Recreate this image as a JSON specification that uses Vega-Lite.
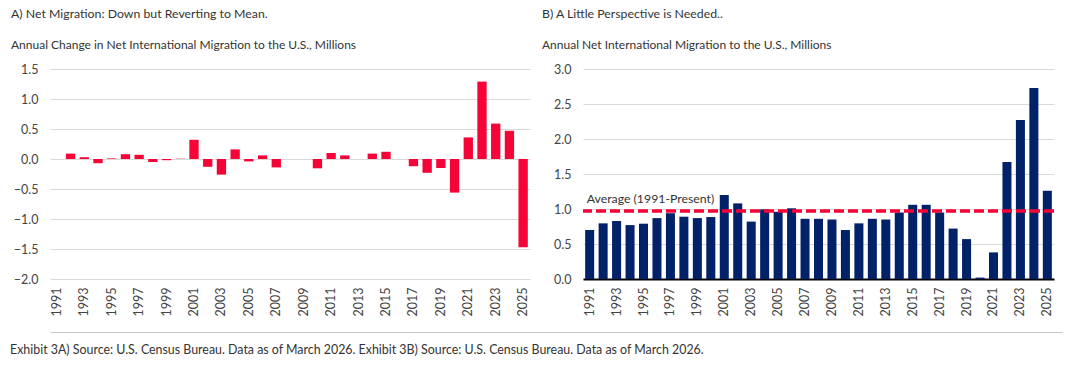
{
  "$schema": "https://vega.github.io/schema/vega-lite/v6.json",
  "background": "white",
  "padding": {"left": 10, "top": 7, "right": 0, "bottom": 0},
  "spacing": 16,
  "config": {
    "font": "Lato",
    "view": {"stroke": null},
    "axis": {
      "labelFont": "Lato",
      "labelFontSize": 12.5,
      "labelColor": "#444444",
      "gridColor": "#d9d9d9",
      "gridWidth": 1.2,
      "ticks": false,
      "title": null,
      "labelOverlap": false
    },
    "axisY": {"tickCount": 8, "domain": false, "labelPadding": 12},
    "title": {"font": "Lato", "fontWeight": "normal", "color": "#333333"}
  },
  "datasets": {
    "a": [
      {"year": 1991, "change": 0}, {"year": 1992, "change": 0.09}, {"year": 1993, "change": 0.03},
      {"year": 1994, "change": -0.07}, {"year": 1995, "change": 0.01}, {"year": 1996, "change": 0.08},
      {"year": 1997, "change": 0.07}, {"year": 1998, "change": -0.05}, {"year": 1999, "change": -0.02},
      {"year": 2000, "change": 0.005}, {"year": 2001, "change": 0.32}, {"year": 2002, "change": -0.13},
      {"year": 2003, "change": -0.26}, {"year": 2004, "change": 0.16}, {"year": 2005, "change": -0.04},
      {"year": 2006, "change": 0.06}, {"year": 2007, "change": -0.14}, {"year": 2008, "change": 0},
      {"year": 2009, "change": 0}, {"year": 2010, "change": -0.155}, {"year": 2011, "change": 0.1},
      {"year": 2012, "change": 0.06}, {"year": 2013, "change": 0}, {"year": 2014, "change": 0.09},
      {"year": 2015, "change": 0.12}, {"year": 2016, "change": 0}, {"year": 2017, "change": -0.12},
      {"year": 2018, "change": -0.23}, {"year": 2019, "change": -0.15}, {"year": 2020, "change": -0.56},
      {"year": 2021, "change": 0.36}, {"year": 2022, "change": 1.29}, {"year": 2023, "change": 0.59},
      {"year": 2024, "change": 0.47}, {"year": 2025, "change": -1.47}
    ],
    "b": [
      {"year": 1991, "net": 0.7}, {"year": 1992, "net": 0.795}, {"year": 1993, "net": 0.83},
      {"year": 1994, "net": 0.77}, {"year": 1995, "net": 0.79}, {"year": 1996, "net": 0.87},
      {"year": 1997, "net": 0.94}, {"year": 1998, "net": 0.89}, {"year": 1999, "net": 0.87},
      {"year": 2000, "net": 0.885}, {"year": 2001, "net": 1.2}, {"year": 2002, "net": 1.08},
      {"year": 2003, "net": 0.82}, {"year": 2004, "net": 0.995}, {"year": 2005, "net": 0.96},
      {"year": 2006, "net": 1.01}, {"year": 2007, "net": 0.86}, {"year": 2008, "net": 0.86},
      {"year": 2009, "net": 0.85}, {"year": 2010, "net": 0.7}, {"year": 2011, "net": 0.795},
      {"year": 2012, "net": 0.86}, {"year": 2013, "net": 0.85}, {"year": 2014, "net": 0.95},
      {"year": 2015, "net": 1.06}, {"year": 2016, "net": 1.06}, {"year": 2017, "net": 0.95},
      {"year": 2018, "net": 0.72}, {"year": 2019, "net": 0.57}, {"year": 2020, "net": 0.02},
      {"year": 2021, "net": 0.38}, {"year": 2022, "net": 1.67}, {"year": 2023, "net": 2.27},
      {"year": 2024, "net": 2.73}, {"year": 2025, "net": 1.26}
    ],
    "avg": [{"label": "Average (1991-Present)", "value": 0.97, "year": 1991}]
  },
  "vconcat": [
    {
      "spacing": 12,
      "hconcat": [
        {
          "width": 480,
          "height": 210,
          "title": {
            "text": "A) Net Migration: Down but Reverting to Mean.",
            "subtitle": "Annual Change in Net International Migration to the U.S., Millions",
            "anchor": "start",
            "frame": "group",
            "dx": -39,
            "fontSize": 12.3,
            "subtitleFontSize": 12,
            "subtitleColor": "#333333",
            "subtitlePadding": 20,
            "offset": 12
          },
          "data": {"name": "a"},
          "mark": {"type": "bar", "color": "#F50537"},
          "encoding": {
            "x": {
              "field": "year", "type": "ordinal",
              "scale": {"paddingInner": 0.32, "paddingOuter": 0.16},
              "axis": {"labelAngle": -90, "labelPadding": 8, "domain": false, "grid": false,
                       "labelExpr": "datum.value % 2 == 1 ? datum.label : ''"}
            },
            "y": {
              "field": "change", "type": "quantitative",
              "scale": {"domain": [-2, 1.5], "nice": false}
            }
          }
        },
        {
          "width": 471,
          "height": 210,
          "title": {
            "text": "B) A Little Perspective is Needed..",
            "subtitle": "Annual Net International Migration to the U.S., Millions",
            "anchor": "start",
            "frame": "group",
            "dx": -41,
            "fontSize": 12.3,
            "subtitleFontSize": 12,
            "subtitleColor": "#333333",
            "subtitlePadding": 20,
            "offset": 12
          },
          "data": {"name": "avg"},
          "layer": [
            {
              "data": {"name": "b"},
              "mark": {"type": "bar", "color": "#012169"},
              "encoding": {
                "x": {
                  "field": "year", "type": "ordinal",
                  "scale": {"paddingInner": 0.33, "paddingOuter": 0.16},
                  "axis": {"labelAngle": -90, "labelPadding": 8, "domain": true, "domainColor": "#000000", "domainWidth": 2, "grid": false,
                           "labelExpr": "datum.value % 2 == 1 ? datum.label : ''"}
                },
                "y": {
                  "field": "net", "type": "quantitative",
                  "scale": {"domain": [0, 3], "nice": false}
                }
              }
            },
            {
              "mark": {"type": "rule", "color": "#F50537", "strokeWidth": 3.5, "strokeDash": [10, 4]},
              "encoding": {"y": {"field": "value", "type": "quantitative"}}
            },
            {
              "mark": {"type": "text", "align": "left", "baseline": "middle", "dx": -3, "dy": -12, "fontSize": 12.3, "color": "#333333"},
              "encoding": {
                "x": {"field": "year", "type": "ordinal"},
                "y": {"field": "value", "type": "quantitative"},
                "text": {"field": "label"}
              }
            }
          ]
        }
      ]
    },
    {
      "width": 1013,
      "height": 1,
      "title": {
        "text": "Exhibit 3A) Source: U.S. Census Bureau. Data as of March 2026. Exhibit 3B) Source: U.S. Census Bureau. Data as of March 2026.",
        "orient": "bottom",
        "anchor": "start",
        "frame": "group",
        "dx": -40,
        "fontSize": 12.4,
        "color": "#333333",
        "offset": 11
      },
      "data": {"values": []},
      "mark": {"type": "point", "opacity": 0},
      "encoding": {
        "x": {
          "field": "v", "type": "quantitative",
          "scale": {"domain": [0, 1]},
          "axis": {"orient": "top", "labels": false, "grid": false, "ticks": false, "domain": true,
                   "domainColor": "#c8c8c8", "domainWidth": 1.2, "title": null}
        }
      }
    }
  ]
}
